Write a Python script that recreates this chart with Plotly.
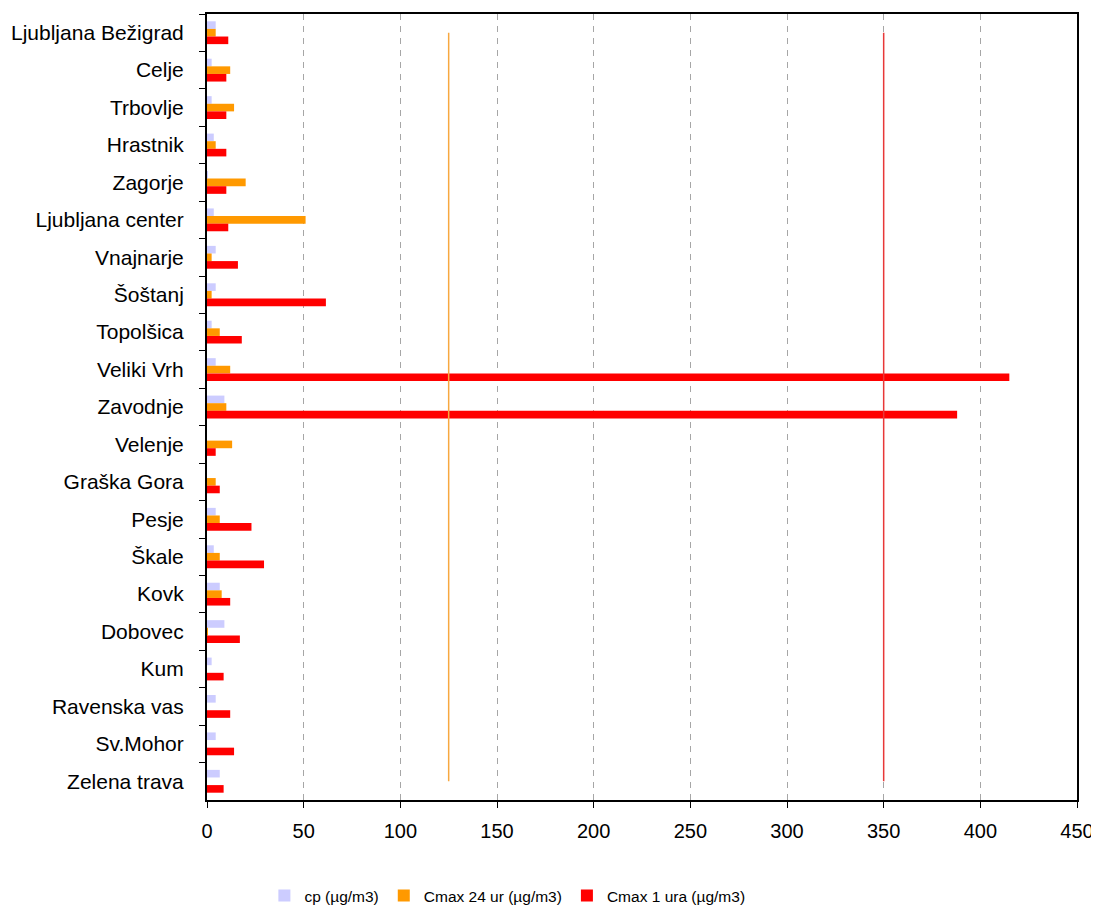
import plotly.graph_objects as go

stations = ["Ljubljana Bežigrad", "Celje", "Trbovlje", "Hrastnik", "Zagorje",
            "Ljubljana center", "Vnajnarje", "Šoštanj", "Topolšica", "Veliki Vrh",
            "Zavodnje", "Velenje", "Graška Gora", "Pesje", "Škale", "Kovk",
            "Dobovec", "Kum", "Ravenska vas", "Sv.Mohor", "Zelena trava"]

cp = [4.5, 2.4, 2.4, 3.5, 0.5, 3.5, 4.5, 4.5, 2.4, 4.5,
      9, 0, 0, 4.5, 3.5, 6.6, 9, 2.4, 4.5, 4.5, 6.6]
cmax24 = [4.5, 12, 14, 4.5, 20, 51, 2.4, 2.4, 6.6, 12,
          10, 13, 4.5, 6.6, 6.6, 7.6, 0.5, 0, 0, 0, 0]
cmax1 = [11, 10, 10, 10, 10, 11, 16, 61.5, 18, 415,
         388, 4.5, 6.6, 23, 29.5, 12, 17, 8.6, 12, 14, 8.6]

limit24 = 125
limit1 = 350

x_ticks = [0, 50, 100, 150, 200, 250, 300, 350, 400, 450]

font_family = "Liberation Sans, Arial, sans-serif"

fig = go.Figure()
fig.add_trace(go.Bar(y=stations, x=cp, orientation="h", name="cp (µg/m3)",
                     marker=dict(color="#CCCCFF", line=dict(width=0))))
fig.add_trace(go.Bar(y=stations, x=cmax24, orientation="h", name="Cmax 24 ur (µg/m3)",
                     marker=dict(color="#FF9900", line=dict(width=0))))
fig.add_trace(go.Bar(y=stations, x=cmax1, orientation="h", name="Cmax 1 ura (µg/m3)",
                     marker=dict(color="#FF0000", line=dict(width=0))))

fig.add_trace(go.Scatter(x=[limit24, limit24], y=[stations[0], stations[-1]],
                         mode="lines", line=dict(color="#F7A840", width=1.5),
                         showlegend=False, hoverinfo="skip"))
fig.add_trace(go.Scatter(x=[limit1, limit1], y=[stations[0], stations[-1]],
                         mode="lines", line=dict(color="#E83838", width=1.5),
                         showlegend=False, hoverinfo="skip"))

fig.update_layout(
    width=1091, height=899,
    margin=dict(l=199, r=22, t=6, b=107, autoexpand=False),
    paper_bgcolor="white", plot_bgcolor="white",
    barmode="group", bargap=0.39, bargroupgap=0,
    font=dict(family=font_family, size=19, color="black"),
    showlegend=True,
    legend=dict(orientation="h", xref="container", yref="container",
                x=0.235, xanchor="left", y=0.0122, yanchor="middle",
                font=dict(size=15.5), traceorder="normal",
                itemwidth=30),
)

fig.update_xaxes(range=[0, 450], tickvals=x_ticks, ticktext=[str(v) for v in x_ticks],
                 showgrid=True, gridcolor="#A6A6A6", griddash="6px,6px", gridwidth=1,
                 showline=True, linecolor="black", linewidth=1.5, mirror=True,
                 ticks="outside", ticklen=6, tickcolor="black",
                 ticklabelstandoff=6, zeroline=False,
                 tickfont=dict(size=20))
fig.update_yaxes(range=[20.5, -0.5], type="category",
                 showgrid=False, showline=True, linecolor="black", linewidth=2, mirror=True,
                 ticks="outside", ticklen=6, tickcolor="black", tickson="boundaries",
                 ticklabelstandoff=17, tickfont=dict(size=21))

fig.write_html("out.html")
